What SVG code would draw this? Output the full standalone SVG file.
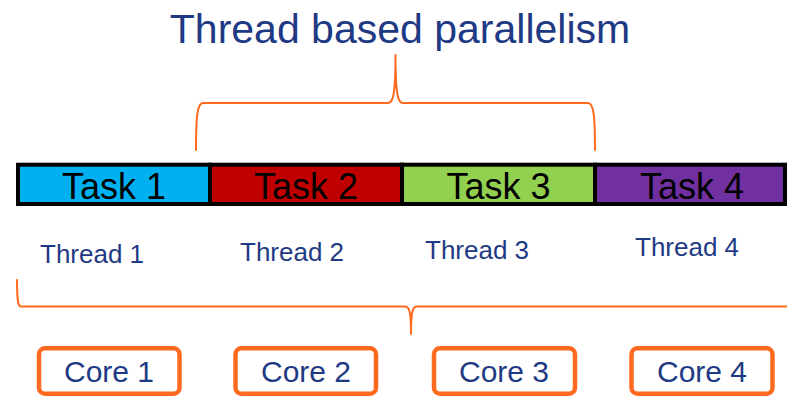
<svg xmlns="http://www.w3.org/2000/svg" width="787" height="396" viewBox="0 0 787 396">
  <style>
    .title { font-family: "Liberation Sans", Arial, sans-serif; font-size: 41px; fill: #1F3A84; text-anchor: middle; }
    .task-cell { stroke: #000000; stroke-width: 4; }
    .task-label { font-family: "Liberation Sans", Arial, sans-serif; font-size: 36px; fill: #000000; text-anchor: middle; }
    .thread-label { font-family: "Liberation Sans", Arial, sans-serif; font-size: 26px; fill: #1F3A84; }
    .brace { fill: none; stroke: #FF6A1F; stroke-linecap: round; stroke-linejoin: round; }
    .core-box { fill: #FFFFFF; stroke: #FF6A1F; stroke-width: 4.5; }
    .core-label { font-family: "Liberation Sans", Arial, sans-serif; font-size: 30px; fill: #1F3A84; text-anchor: middle; }
  </style>

  <rect width="787" height="396" fill="#FFFFFF"/>

  <text class="title" x="400" y="43">Thread based parallelism</text>

  <!-- Braces -->
  <g id="connectors">
    <path class="brace" stroke-width="2" d="M196 150 C196 118 197 103 203 103 L388 103 C393 103 395.5 95 395.5 55 C395.5 95 398 103 403 103 L588 103 C594 103 595 118 595 150"/>
    <path class="brace" stroke-width="2" d="M17 280 C17 300 18 306.5 21 306.5 L405 306.5 C409 306.5 411 310 411 334 C411 310 413 306.5 417 306.5 L792 306.5"/>
  </g>

  <!-- Task bar -->
  <g id="task1">
    <rect class="task-cell" x="18" y="164.7" width="192" height="39.3" fill="#00B0F0"/>
    <text class="task-label" x="114" y="199">Task 1</text>
  </g>
  <g id="task2">
    <rect class="task-cell" x="210" y="164.7" width="192" height="39.3" fill="#C00000"/>
    <text class="task-label" x="306" y="199">Task 2</text>
  </g>
  <g id="task3">
    <rect class="task-cell" x="402" y="164.7" width="193" height="39.3" fill="#92D050"/>
    <text class="task-label" x="498.5" y="199">Task 3</text>
  </g>
  <g id="task4">
    <rect class="task-cell" x="595" y="164.7" width="190" height="39.3" fill="#7030A0"/>
    <text class="task-label" x="692" y="199">Task 4</text>
  </g>

  <!-- Threads -->
  <g id="thread1"><text class="thread-label" x="40" y="263">Thread 1</text></g>
  <g id="thread2"><text class="thread-label" x="240" y="261">Thread 2</text></g>
  <g id="thread3"><text class="thread-label" x="425" y="258.5">Thread 3</text></g>
  <g id="thread4"><text class="thread-label" x="635" y="256">Thread 4</text></g>

  <!-- Cores -->
  <g id="core1">
    <rect class="core-box" x="39" y="348.3" width="140.5" height="45.4" rx="6"/>
    <text class="core-label" x="109" y="382">Core 1</text>
  </g>
  <g id="core2">
    <rect class="core-box" x="235.5" y="348.3" width="140.5" height="45.4" rx="6"/>
    <text class="core-label" x="306" y="382">Core 2</text>
  </g>
  <g id="core3">
    <rect class="core-box" x="434" y="348.3" width="141" height="45.4" rx="6"/>
    <text class="core-label" x="504" y="382">Core 3</text>
  </g>
  <g id="core4">
    <rect class="core-box" x="631.5" y="348.3" width="141" height="45.4" rx="6"/>
    <text class="core-label" x="702" y="382">Core 4</text>
  </g>
</svg>
